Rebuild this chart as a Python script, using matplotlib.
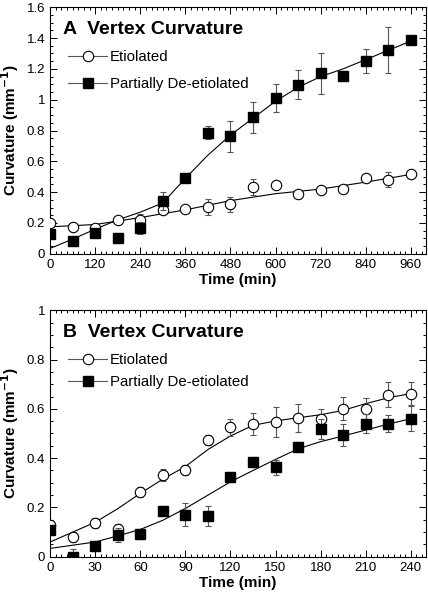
import numpy as np
import matplotlib.pyplot as plt
from matplotlib.lines import Line2D
from matplotlib.ticker import MultipleLocator

plt.rcParams['font.family'] = ['Liberation Sans', 'DejaVu Sans']

# ---- panel A data (0-960 min) ----
time_a = [0, 60, 120, 180, 240, 300, 360, 420, 480, 540, 600, 660, 720, 780, 840, 900, 960]
etiol_a = [0.197, 0.173, 0.17, 0.219, 0.217, 0.284, 0.29, 0.303, 0.32, 0.433, 0.448, 0.39, 0.414, 0.422, 0.49, 0.481, 0.518]
etiol_a_err = [0.01, 0.01, 0.01, 0.01, 0.04, 0.01, 0.01, 0.05, 0.05, 0.05, 0.01, 0.01, 0.01, 0.01, 0.01, 0.05, 0.01]
deet_a = [0.126, 0.08, 0.134, 0.10, 0.169, 0.344, 0.494, 0.787, 0.763, 0.885, 1.013, 1.098, 1.17, 1.154, 1.25, 1.32, 1.39]
deet_a_err = [0.01, 0.01, 0.01, 0.01, 0.04, 0.06, 0.02, 0.04, 0.1, 0.1, 0.09, 0.095, 0.135, 0.02, 0.08, 0.15, 0.02]

fit_time_a = [0, 120, 240, 360, 480, 600, 720, 840, 960]
etiol_fit_a = [0.175, 0.19, 0.235, 0.285, 0.345, 0.39, 0.42, 0.465, 0.515]
deet_fit_time_a = [0, 60, 120, 180, 240, 300, 360, 420, 480, 540, 600, 660, 720, 780, 840, 900, 960]
deet_fit_a = [0.035, 0.095, 0.16, 0.22, 0.27, 0.33, 0.49, 0.64, 0.77, 0.88, 0.99, 1.08, 1.15, 1.2, 1.26, 1.32, 1.38]

# ---- panel B data (0-240 min) ----
time_b = [0, 15, 30, 45, 60, 75, 90, 105, 120, 135, 150, 165, 180, 195, 210, 225, 240]
etiol_b = [0.128, 0.081, 0.138, 0.113, 0.263, 0.331, 0.351, 0.475, 0.525, 0.537, 0.546, 0.563, 0.558, 0.601, 0.6, 0.657, 0.662]
etiol_b_err = [0.02, 0.02, 0.02, 0.02, 0.02, 0.025, 0.02, 0.02, 0.035, 0.045, 0.06, 0.055, 0.04, 0.045, 0.045, 0.05, 0.045]
deet_b = [0.108, 0.0, 0.043, 0.088, 0.091, 0.186, 0.17, 0.166, 0.324, 0.385, 0.363, 0.445, 0.518, 0.494, 0.54, 0.54, 0.56]
deet_b_err = [0.02, 0.03, 0.02, 0.03, 0.02, 0.02, 0.047, 0.04, 0.02, 0.02, 0.03, 0.02, 0.04, 0.045, 0.04, 0.035, 0.05]

fit_time_b = [0, 15, 30, 45, 60, 75, 90, 105, 120, 135, 150, 165, 180, 195, 210, 225, 240]
etiol_fit_b = [0.06, 0.1, 0.14, 0.195, 0.257, 0.315, 0.366, 0.435, 0.49, 0.533, 0.551, 0.564, 0.576, 0.594, 0.621, 0.645, 0.662]
deet_fit_b = [0.034, 0.047, 0.06, 0.085, 0.111, 0.148, 0.196, 0.25, 0.304, 0.35, 0.395, 0.438, 0.467, 0.49, 0.514, 0.538, 0.56]

labels = ["Etiolated", "Partially De-etiolated"]

fig = plt.figure(figsize=(4.28, 6.0), dpi=100)
ax_a = fig.add_axes([0.117, 0.577, 0.878, 0.411])
ax_b = fig.add_axes([0.117, 0.072, 0.878, 0.411])


def draw_panel(ax, t, e, ee, d, de, ft, ef, dft, dfit, letter, xmax, xmajor, ymax, ymajor, lspace):
    ax.plot(ft, ef, color="black", lw=0.8, zorder=2)
    ax.plot(dft, dfit, color="black", lw=0.8, zorder=2)
    ax.errorbar(t, e, yerr=ee, fmt="o", ms=7.5, mfc="white", mec="black", mew=0.8,
                ecolor="#555555", elinewidth=0.8, capsize=2.5, capthick=0.8, zorder=3)
    ax.errorbar(t, d, yerr=de, fmt="s", ms=7.5, mfc="black", mec="black",
                ecolor="#555555", elinewidth=0.8, capsize=2.5, capthick=0.8, zorder=4)
    ax.set_xlim(0, xmax)
    ax.set_ylim(0, ymax)
    ax.xaxis.set_major_locator(MultipleLocator(xmajor))
    ax.xaxis.set_minor_locator(MultipleLocator(xmajor / 8))
    ax.yaxis.set_major_locator(MultipleLocator(ymajor))
    ax.yaxis.set_minor_locator(MultipleLocator(0.05))
    ax.tick_params(which="both", direction="in", top=True, right=True, labelsize=9.5, width=0.7)
    ax.tick_params(which="major", length=5)
    ax.tick_params(which="minor", length=2.5)
    for s in ax.spines.values():
        s.set_linewidth(0.8)
    ax.yaxis.set_major_formatter(plt.FuncFormatter(lambda v, p: "0" if v == 0 else ("%g" % round(v, 2))))
    ax.set_xlabel("Time (min)", fontsize=11, fontweight="bold", labelpad=2)
    ax.set_ylabel("Curvature (mm$^{\\mathbf{-1}}$)", fontsize=11, fontweight="bold", labelpad=4)
    ax.text(0.035, 0.908, letter + "  Vertex Curvature", transform=ax.transAxes,
            fontsize=14, fontweight="bold", va="center", ha="left")
    handles = [
        Line2D([], [], color="#555555", lw=0.8, marker="o", ms=7.5, mfc="white", mec="black", mew=0.8),
        Line2D([], [], color="#555555", lw=0.8, marker="s", ms=7.5, mfc="black", mec="black"),
    ]
    ax.legend(handles, labels, loc="upper left", bbox_to_anchor=(0.048, 0.825), frameon=False,
              fontsize=10.8, handlelength=2.6, handletextpad=0.2, labelspacing=lspace,
              borderaxespad=0, borderpad=0)


draw_panel(ax_a, time_a, etiol_a, etiol_a_err, deet_a, deet_a_err,
           fit_time_a, etiol_fit_a, deet_fit_time_a, deet_fit_a, "A", 1000, 120, 1.6, 0.2, 0.85)
draw_panel(ax_b, time_b, etiol_b, etiol_b_err, deet_b, deet_b_err,
           fit_time_b, etiol_fit_b, fit_time_b, deet_fit_b, "B", 250, 30, 1.0, 0.2, 0.52)

fig.savefig("out.png", dpi=100)
